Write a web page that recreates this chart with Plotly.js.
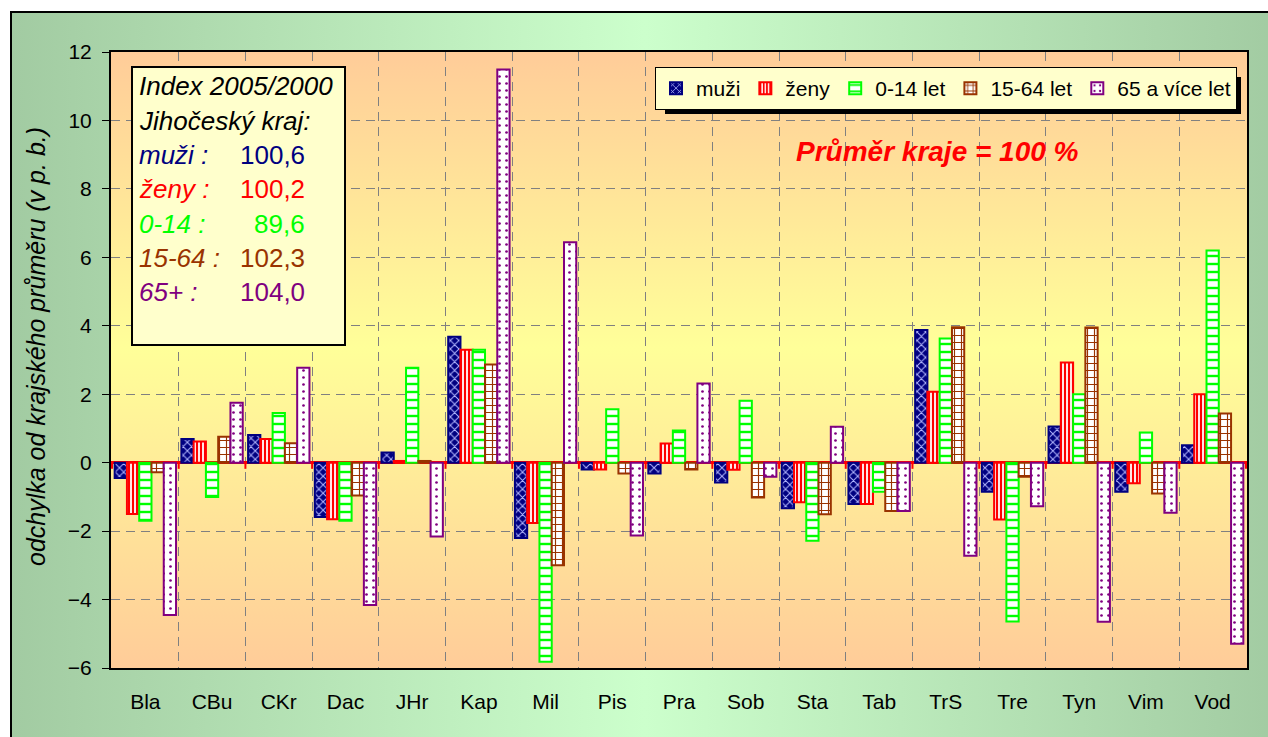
<!DOCTYPE html>
<html>
<head>
<meta charset="utf-8">
<script src="https://cdn.plot.ly/plotly-3.0.1.min.js"></script>
<style>
  html, body { margin: 0; padding: 0; background: #ffffff; width: 1268px; height: 737px; overflow: hidden; }
  #frame { position: absolute; left: 10px; top: 11px; width: 1270px; height: 740px;
           border: 2px solid #000; box-sizing: border-box;
           background: linear-gradient(to right, #a2cba2 0%, #ccffcc 50%, #a2cba2 100%); }
  #plotbg { position: absolute; left: 111px; top: 52px; width: 1136px; height: 616px;
            background: linear-gradient(to bottom, #ffcc99 0%, #ffff99 48%, #ffcc99 100%); }
  #chart { position: absolute; left: 0; top: 0; width: 1268px; height: 737px; }
</style>
</head>
<body>
<div id="frame"></div>
<div id="plotbg"></div>
<div id="chart"></div>
<script>
const categories = ['Bla','CBu','CKr','Dac','JHr','Kap','Mil','Pis','Pra','Sob','Sta','Tab','TrS','Tre','Tyn','Vim','Vod'];
const muzi  = [-0.45, 0.69, 0.81, -1.59, 0.30, 3.68, -2.20, -0.20, -0.32, -0.58, -1.33, -1.21, 3.88, -0.85, 1.06, -0.85, 0.51];
const zeny  = [-1.50, 0.62, 0.69, -1.65, 0.05, 3.30, -1.76, -0.20, 0.56, -0.21, -1.16, -1.21, 2.07, -1.66, 2.93, -0.60, 2.00];
const age014 = [-1.70, -1.00, 1.45, -1.70, 2.77, 3.30, -5.82, 1.56, 0.94, 1.81, -2.28, -0.85, 3.63, -4.64, 2.00, 0.88, 6.20];
const age1564 = [-0.28, 0.76, 0.57, -0.96, 0.05, 2.87, -3.00, -0.32, -0.20, -1.02, -1.51, -1.41, 3.96, -0.41, 3.95, -0.90, 1.44];
const age65 = [-4.45, 1.75, 2.77, -4.16, -2.16, 11.49, 6.44, -2.13, 2.31, -0.41, 1.05, -1.41, -2.72, -1.27, -4.65, -1.46, -5.29];
const seriesNames = ['muži', 'ženy', '0-14 let', '15-64 let', '65 a více let'];
const boxLabels = ['muži :', 'ženy :', '0-14 :', '15-64 :', '65+ :'];
const boxValues = ['100,6', '100,2', '89,6', '102,3', '104,0'];
const yTitle = 'odchylka od krajského průměru (v p. b.)';

const FONT = 'Arial, "Liberation Sans", sans-serif';
const colors = ['#000080', '#ff0000', '#00ff00', '#993300', '#800080'];
const patterns = [
  {shape: 'x', bgcolor: '#000080', fgcolor: '#b4b8ff', size: 6, solidity: 0.3},
  {shape: '|', bgcolor: '#ffffff', fgcolor: '#ff0000', size: 4, solidity: 0.55},
  {shape: '-', bgcolor: '#ffffff', fgcolor: '#00ff00', size: 8, solidity: 0.3},
  {shape: '+', bgcolor: '#ffffff', fgcolor: '#993300', size: 7, solidity: 0.3},
  {shape: '.', bgcolor: '#ffffff', fgcolor: '#800080', size: 7, solidity: 0.12}
];
const allSeries = [muzi, zeny, age014, age1564, age65];

const traces = allSeries.map((vals, i) => ({
  type: 'bar',
  name: seriesNames[i],
  x: categories,
  y: vals,
  marker: {
    color: patterns[i].bgcolor,
    line: {color: colors[i], width: 2},
    pattern: patterns[i]
  },
  hoverinfo: 'x+y+name'
}));

const W = 1268, H = 737, L = 111, R = 1247, T = 52, B = 668;
const px = x => (x - L) / (R - L);
const py = y => (B - y) / (B - T);

const annotations = [
  {text: '<i>Index 2005/2000</i>', color: '#000000', y: 86},
  {text: '<i>Jihočeský kraj:</i>', color: '#000000', y: 121}
].map(a => ({xref: 'paper', yref: 'paper', x: px(137), y: py(a.y), xanchor: 'left', yanchor: 'middle',
  text: a.text, showarrow: false, font: {family: FONT, size: 26, color: a.color}}));

const lineY = [155, 189, 224, 258, 292];
boxLabels.forEach((lab, i) => {
  annotations.push({xref: 'paper', yref: 'paper', x: px(137), y: py(lineY[i]), xanchor: 'left', yanchor: 'middle',
    text: '<i>' + lab + '</i>', showarrow: false, font: {family: FONT, size: 26, color: colors[i]}});
  annotations.push({xref: 'paper', yref: 'paper', x: px(307), y: py(lineY[i]), xanchor: 'right', yanchor: 'middle',
    text: boxValues[i], showarrow: false, font: {family: FONT, size: 26, color: colors[i]}});
});
annotations.push({xref: 'paper', yref: 'paper', x: px(937), y: py(151), xanchor: 'center', yanchor: 'middle',
  text: '<b><i>Průměr kraje = 100 %</i></b>', showarrow: false, font: {family: FONT, size: 28, color: '#ff0000'}});
// y-axis title (rotated)
annotations.push({xref: 'paper', yref: 'paper', x: px(36), y: py(347), xanchor: 'center', yanchor: 'middle',
  textangle: -90, text: '<i>' + yTitle + '</i>', showarrow: false, font: {family: FONT, size: 25, color: '#000000'}});

const shapes = [
  {type: 'rect', xref: 'paper', yref: 'paper', x0: px(132), x1: px(345), y0: py(345), y1: py(67),
   fillcolor: '#ffffcc', line: {color: '#000000', width: 2}, layer: 'above'}
];
// red category tick marks on the zero line
for (let i = 0; i <= categories.length; i++) {
  shapes.push({type: 'line', xref: 'x', yref: 'y', x0: i - 0.5, x1: i - 0.5, y0: 0, y1: -0.18,
    line: {color: '#ff0000', width: 2}, layer: 'above'});
}

const LEG_RIGHT = 1237, LEG_TOP = 67;
const layout = {
  width: W, height: H,
  margin: {l: L, r: W - R, t: T, b: H - B, pad: 0},
  paper_bgcolor: 'rgba(0,0,0,0)',
  plot_bgcolor: 'rgba(0,0,0,0)',
  font: {family: FONT, size: 21, color: '#000000'},
  barmode: 'group',
  bargap: 0.08,
  bargroupgap: 0,
  showlegend: true,
  legend: {
    orientation: 'h', x: px(LEG_RIGHT), xanchor: 'right', y: py(LEG_TOP), yanchor: 'top',
    bgcolor: '#ffffcc', bordercolor: '#000000', borderwidth: 1,
    font: {family: FONT, size: 21, color: '#000000'},
    itemclick: false, itemdoubleclick: false, tracegroupgap: 0
  },
  xaxis: {
    type: 'category', tickson: 'boundaries', ticks: '', showgrid: true,
    gridcolor: '#808080', griddash: '9px,6px', gridwidth: 1,
    showline: true, linecolor: '#000000', linewidth: 2, mirror: true,
    zeroline: false, ticklabelstandoff: 14, automargin: false,
    tickfont: {family: FONT, size: 21, color: '#000000'}
  },
  yaxis: {
    range: [-6, 12], dtick: 2, tick0: 0, ticks: 'outside', ticklen: 7, tickcolor: '#000000', tickwidth: 1,
    showgrid: true, gridcolor: '#808080', griddash: '9px,6px', gridwidth: 1,
    showline: true, linecolor: '#000000', linewidth: 2, mirror: true,
    zeroline: true, zerolinecolor: '#ff0000', zerolinewidth: 3,
    automargin: false, ticklabelstandoff: 6,
    tickfont: {family: FONT, size: 21, color: '#000000'}
  },
  shapes: shapes,
  annotations: annotations
};

Plotly.newPlot('chart', traces, layout, {displayModeBar: false}).then(gd => {
  // drop shadow under the legend box (as in the original spreadsheet chart)
  const lg = gd._fullLayout.legend || {};
  const w = lg._width, h = lg._height;
  if (!w || !h) return;
  const x0 = LEG_RIGHT - w + 10, x1 = LEG_RIGHT + 4;
  const yTop = LEG_TOP + 10, yBot = LEG_TOP + h + 4;
  const newShapes = shapes.concat([
    {type: 'rect', xref: 'paper', yref: 'paper', x0: px(x0), x1: px(x1), y0: py(yBot), y1: py(yTop),
     fillcolor: '#000000', line: {width: 0}, layer: 'above'}
  ]);
  return Plotly.relayout(gd, {shapes: newShapes});
});
</script>
</body>
</html>
